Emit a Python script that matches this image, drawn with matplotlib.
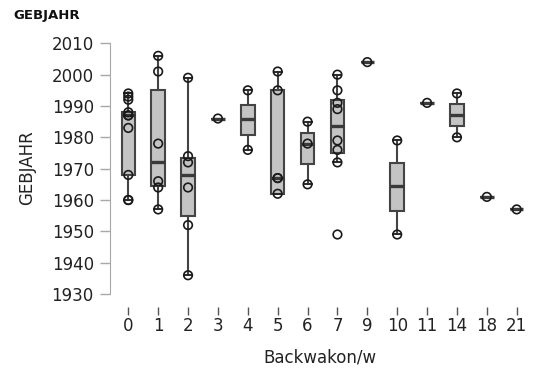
import matplotlib
matplotlib.use("Agg")
import matplotlib.pyplot as plt

# categories of Backwakon/w (one box each)
categories = ["0", "1", "2", "3", "4", "5", "6", "7", "9", "10", "11", "14", "18", "21"]

# box statistics
q1 = [1968, 1964.5, 1955, 1986, 1980.7, 1962, 1971.4, 1975, 2004, 1956.6, 1991, 1983.5, 1961, 1957]
med = [1987, 1972, 1968, 1986, 1985.7, 1967, 1978, 1983.7, 2004, 1964.4, 1991, 1987.2, 1961, 1957]
q3 = [1988, 1995, 1973.5, 1986, 1990.3, 1995, 1981.5, 1992, 2004, 1971.7, 1991, 1990.6, 1961, 1957]
whis_lo = [1960, 1957, 1936, 1986, 1976, 1962, 1965, 1972, 2004, 1949, 1991, 1980, 1961, 1957]
whis_hi = [1994, 2006, 1999, 1986, 1995, 2001, 1985, 2000, 2004, 1979, 1991, 1994, 1961, 1957]

# individual GEBJAHR values shown as circles
points = [
    [1994, 1993, 1992, 1988, 1987, 1987, 1983, 1968, 1960, 1960],
    [2006, 2001, 1978, 1966, 1964, 1957],
    [1999, 1974, 1972, 1964, 1952, 1936],
    [1986],
    [1995, 1976],
    [2001, 1995, 1967, 1967, 1962],
    [1985, 1978, 1965],
    [2000, 1995, 1991, 1989, 1979, 1976, 1972, 1949],
    [2004],
    [1979, 1949],
    [1991],
    [1994, 1980],
    [1961],
    [1957],
]

fig = plt.figure(figsize=(5.34, 3.78), dpi=100)
ax = fig.add_axes([110 / 534, 78 / 378, 420 / 534, 265 / 378])

stats = []
for i in range(len(categories)):
    stats.append({"med": med[i], "q1": q1[i], "q3": q3[i],
                  "whislo": whis_lo[i], "whishi": whis_hi[i], "fliers": []})

edge = "#444444"
ax.bxp(stats, positions=range(len(categories)), widths=0.45, capwidths=0.27,
       patch_artist=True, showfliers=False,
       boxprops=dict(facecolor="#c4c4c4", edgecolor=edge, linewidth=1.5),
       medianprops=dict(color="#3a3a3a", linewidth=2.4),
       whiskerprops=dict(color=edge, linewidth=1.5),
       capprops=dict(color="#2a2a2a", linewidth=1.4))

for i, vals in enumerate(points):
    ax.scatter([i] * len(vals), vals, s=38, facecolors="none",
               edgecolors="#1a1a1a", linewidths=1.2, zorder=5)

ax.set_xlim(-0.612, 13.445)
ax.set_ylim(1928.1, 2012.65)
ax.set_yticks(range(1930, 2011, 10))
ax.set_xticks(range(len(categories)))
ax.set_xticklabels(categories)

for s in ["top", "right"]:
    ax.spines[s].set_visible(False)
ax.spines["bottom"].set_color("none")
ax.spines["bottom"].set_position(("outward", 5))
ax.spines["left"].set_bounds(1930, 2010)
ax.spines["left"].set_color("#a8a8a8")

ax.tick_params(axis="y", direction="out", length=7.2, width=1, color="#a8a8a8",
               pad=4.5, labelsize=12, labelcolor="#222222")
ax.tick_params(axis="x", direction="out", length=5.8, width=1, color="#555555",
               pad=1.5, labelsize=12, labelcolor="#222222")

ax.set_xlabel("Backwakon/w", fontsize=12, color="#222222", labelpad=10)
ax.set_ylabel("GEBJAHR", fontsize=12, color="#222222", labelpad=11)

fig.text(13 / 534, 1 - 15 / 378, "GEBJAHR", fontsize=9.5, fontweight="bold",
         va="center", ha="left", color="#111111")

fig.savefig("out.png", dpi=100)
